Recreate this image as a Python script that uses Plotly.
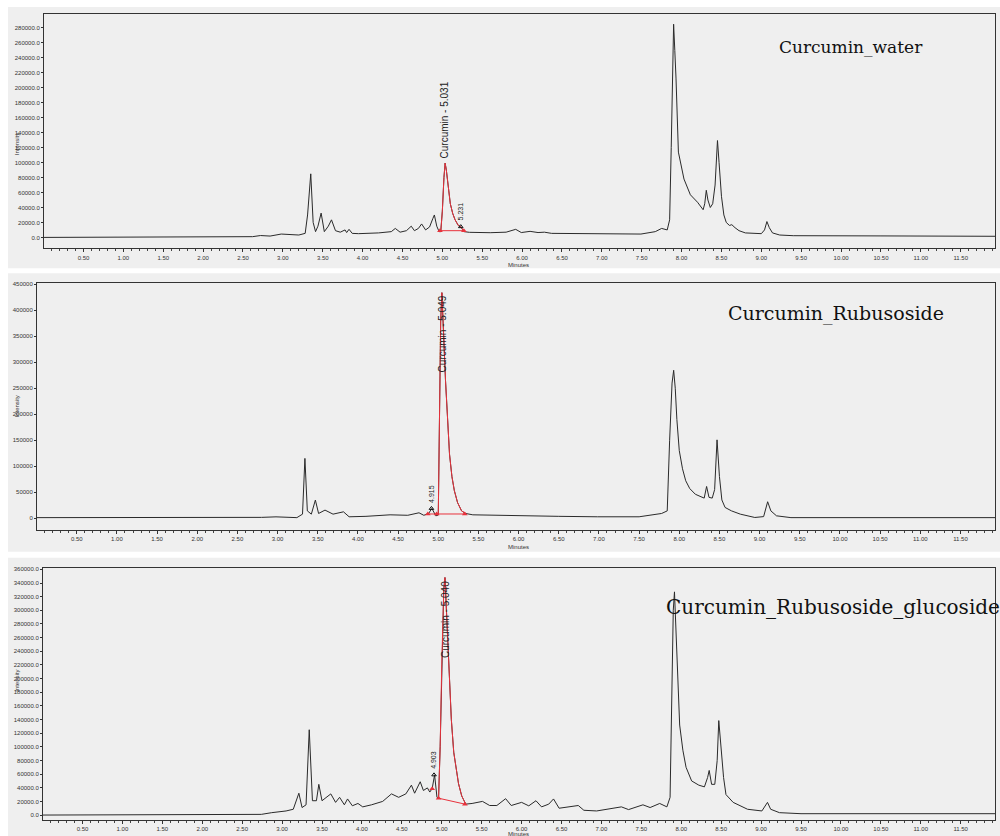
import plotly.graph_objects as go

# ---------------- data ----------------
t_water = [0.00, 2.50, 2.62, 2.72, 2.84, 2.98, 3.10, 3.20, 3.28, 3.31,
           3.35, 3.38, 3.41, 3.44, 3.48, 3.52, 3.57, 3.61, 3.66, 3.72,
           3.78, 3.80, 3.83, 3.87, 3.95, 4.05, 4.20, 4.36, 4.41, 4.47,
           4.55, 4.61, 4.65, 4.70, 4.74, 4.79, 4.84, 4.88, 4.90, 4.93,
           4.96, 4.98, 5.00, 5.02, 5.035, 5.05, 5.07, 5.10, 5.13, 5.16,
           5.20, 5.23, 5.25, 5.27, 5.34, 5.60, 5.80, 5.92, 5.99, 6.10,
           6.20, 6.28, 6.37, 6.50, 6.95, 7.49, 7.67, 7.75, 7.82, 7.85,
           7.87, 7.885, 7.90, 7.915, 7.93, 7.96, 8.03, 8.11, 8.20, 8.27,
           8.29, 8.31, 8.33, 8.36, 8.39, 8.42, 8.45, 8.47, 8.50, 8.53,
           8.56, 8.60, 8.63, 8.67, 8.72, 8.80, 8.90, 9.00, 9.04, 9.07,
           9.10, 9.14, 9.23, 9.40, 10.50, 11.93]
y_water = [0, 0, 1000, 2500, 1800, 4500, 3800, 3200, 5400, 30000,
           85000, 20000, 7700, 15000, 32500, 7700, 15000, 23500, 9000, 7000,
           10000, 6500, 10800, 5400, 5000, 5400, 6000, 7700, 12000, 7000,
           9000, 15000, 9000, 12000, 18000, 10000, 14000, 25000, 30000, 15000,
           7700, 7700, 35000, 80000, 99300, 90000, 68000, 45000, 32000, 23500,
           16000, 14400, 11000, 7700, 6800, 6300, 7000, 10800, 6500, 8100,
           6500, 7000, 5400, 5400, 4500, 4500, 7700, 12000, 10000, 23500,
           120000, 240000, 285000, 250000, 213000, 114000, 78000, 57000, 47000, 37000,
           45000, 63000, 50000, 40000, 45000, 70000, 129500, 100000, 55000, 30000,
           20000, 16000, 17000, 13000, 9000, 6000, 5000, 5000, 10000, 21200,
           13000, 6000, 3200, 2300, 2000, 1500]

t_rub = [0.00, 2.50, 2.80, 2.98, 3.24, 3.31, 3.34, 3.37, 3.42, 3.47,
         3.51, 3.59, 3.69, 3.82, 3.89, 4.10, 4.40, 4.62, 4.76, 4.82,
         4.88, 4.92, 4.97, 5.00, 5.015, 5.03, 5.045, 5.06, 5.09, 5.14,
         5.17, 5.20, 5.24, 5.29, 5.34, 5.43, 5.96, 6.50, 6.98, 7.50,
         7.78, 7.85, 7.88, 7.91, 7.93, 7.95, 7.97, 8.00, 8.04, 8.08,
         8.13, 8.20, 8.27, 8.31, 8.34, 8.37, 8.41, 8.44, 8.47, 8.50,
         8.53, 8.57, 8.65, 8.76, 8.94, 9.05, 9.10, 9.14, 9.21, 9.39,
         11.93]
y_rub = [1000, 1000, 1500, 2500, 1000, 7700, 115000, 14000, 7700, 34800,
         9000, 15500, 7700, 12200, 2600, 3500, 6400, 5500, 10300, 5500,
         9000, 18700, 4500, 6000, 200000, 380000, 434000, 380000, 265000, 123000,
         80000, 53000, 30000, 14000, 9000, 6400, 4500, 3500, 2600, 2600,
         9000, 14000, 150000, 260000, 284600, 250000, 190000, 130000, 95000, 72000,
         57000, 46000, 41200, 38600, 61000, 40000, 38600, 55000, 150700, 80000,
         35000, 20600, 14000, 7700, 1300, 3000, 31600, 14000, 4500, 1000,
         1000]

t_glu = [0.00, 2.47, 2.74, 2.87, 3.05, 3.14, 3.18, 3.21, 3.25, 3.30,
         3.34, 3.38, 3.43, 3.46, 3.50, 3.55, 3.61, 3.67, 3.72, 3.78,
         3.82, 3.88, 3.95, 4.01, 4.12, 4.26, 4.37, 4.46, 4.55, 4.62,
         4.66, 4.73, 4.77, 4.82, 4.85, 4.88, 4.91, 4.94, 4.96, 4.98,
         5.00, 5.025, 5.04, 5.06, 5.09, 5.12, 5.15, 5.18, 5.21, 5.25,
         5.30, 5.38, 5.51, 5.60, 5.69, 5.80, 5.87, 6.00, 6.09, 6.18,
         6.25, 6.34, 6.40, 6.47, 6.58, 6.71, 6.78, 6.94, 7.25, 7.34,
         7.52, 7.61, 7.73, 7.82, 7.86, 7.88, 7.90, 7.915, 7.93, 7.95,
         7.98, 8.02, 8.06, 8.13, 8.22, 8.29, 8.33, 8.35, 8.38, 8.42,
         8.45, 8.47, 8.50, 8.53, 8.56, 8.65, 8.83, 9.01, 9.08, 9.12,
         9.23, 9.50, 11.93]
y_glu = [0, 0, 1000, 3500, 6000, 8500, 21000, 32000, 11000, 15000,
         125000, 21000, 21000, 45000, 21000, 26000, 31000, 18600, 26000, 15000,
         23600, 13600, 17000, 12000, 15000, 20000, 31000, 26000, 31000, 43800,
         32000, 48800, 36000, 39800, 33700, 38700, 58900, 26000, 24700, 100000,
         220000, 330000, 348000, 300000, 210000, 140000, 92000, 65000, 46000, 28000,
         16000, 17000, 20000, 14000, 14000, 24000, 14000, 18600, 13500, 21000,
         12000, 16000, 23600, 10000, 12000, 14000, 7000, 6000, 12000, 8000,
         15000, 11000, 17000, 12000, 26000, 150000, 300000, 327000, 280000, 200000,
         131900, 95000, 70000, 50000, 43800, 41300, 55000, 65400, 45000, 45000,
         80000, 138400, 100000, 55000, 30000, 18600, 8500, 6000, 18600, 8500,
         3500, 2000, 2000]

# integrated curcumin peak windows (start, end) and integration baselines
window_water = (4.98, 5.27)
window_rub = (5.00, 5.34)
window_glu = (4.96, 5.30)
base_t_water = [4.97, 5.27]
base_y_water = [9000, 9000]
base_t_rub = [4.87, 4.98, 5.33]
base_y_rub = [8000, 8000, 8000]
base_t_glu = [4.96, 5.29]
base_y_glu = [24700, 16000]
start_t_glu = [4.88]
start_y_glu = [38700]

# peak labels
peak_t = [5.031, 5.049, 5.040]
peak_y = [99300, 434000, 348000]
peak_text = ["Curcumin - 5.031", "Curcumin - 5.049", "Curcumin - 5.040"]
minor_t = [5.231, 4.915, 4.903]
minor_y = [14400, 18700, 58900]
minor_text = ["5.231", "4.915", "4.903"]

sample_names = ["Curcumin_water", "Curcumin_Rubusoside", "Curcumin_Rubusoside_glucoside"]

x_ticks = [0.5, 1.0, 1.5, 2.0, 2.5, 3.0, 3.5, 4.0, 4.5, 5.0, 5.5, 6.0, 6.5, 7.0, 7.5, 8.0, 8.5,
           9.0, 9.5, 10.0, 10.5, 11.0, 11.5]
x_tick_text = ["%.2f" % v for v in x_ticks]

# ---------------- figure ----------------
W, H = 1000, 836
def py(pix):
    return 1 - pix / H

panels = [
    dict(t=t_water, y=y_water, win=window_water, bt=base_t_water, by=base_y_water,
         xdom=[44 / W, 995 / W], ydom=[py(247), py(12)], yr=[-14700, 298700], dtick=20000, fmt=".1f",
         bg=(5, 267), name_xy=(851, 45), name_size=17, min_shift=-12),
    dict(t=t_rub, y=y_rub, win=window_rub, bt=base_t_rub, by=base_y_rub,
         xdom=[37 / W, 995 / W], ydom=[py(529), py(282)], yr=[-22300, 452000], dtick=50000, fmt="d",
         bg=(272, 551), name_xy=(836, 312), name_size=19, min_shift=-12),
    dict(t=t_glu, y=y_glu, win=window_glu, bt=base_t_glu, by=base_y_glu,
         xdom=[43 / W, 995 / W], ydom=[py(820), py(567)], yr=[-7300, 362500], dtick=20000, fmt=".1f",
         bg=(557, 836), name_xy=(833, 606), name_size=20, min_shift=-9),
]

fig = go.Figure()
RED = "#e8323c"
LINE = "#2a2a2a"
tickfont = dict(family="Liberation Sans, Arial", size=6, color="#333333")
shapes = []
annotations = []

for i, p in enumerate(panels):
    k = "" if i == 0 else str(i + 1)
    xa, ya = "x" + k, "y" + k
    fig.add_trace(go.Scatter(x=p["t"], y=p["y"], mode="lines", xaxis=xa, yaxis=ya,
                             line=dict(color=LINE, width=1), hoverinfo="skip", showlegend=False))
    lo, hi = p["win"]
    rt = [t for t in p["t"] if lo <= t <= hi]
    ry = [v for t, v in zip(p["t"], p["y"]) if lo <= t <= hi]
    fig.add_trace(go.Scatter(x=rt, y=ry, mode="lines", xaxis=xa, yaxis=ya,
                             line=dict(color=RED, width=1), hoverinfo="skip", showlegend=False))
    fig.add_trace(go.Scatter(x=p["bt"], y=p["by"], mode="lines+markers", xaxis=xa, yaxis=ya,
                             line=dict(color=RED, width=1),
                             marker=dict(symbol="triangle-up", size=5, color=RED),
                             hoverinfo="skip", showlegend=False))
    if i == 2:
        fig.add_trace(go.Scatter(x=start_t_glu, y=start_y_glu, mode="markers", xaxis=xa, yaxis=ya,
                                 marker=dict(symbol="triangle-up", size=5, color=RED),
                                 hoverinfo="skip", showlegend=False))
    fig.add_trace(go.Scatter(x=[minor_t[i]], y=[minor_y[i]], mode="markers", xaxis=xa, yaxis=ya,
                             marker=dict(symbol="triangle-up-open", size=4, color="#111111"),
                             hoverinfo="skip", showlegend=False))

    axx = dict(domain=p["xdom"], range=[0.005, 11.93], anchor=ya, tickvals=x_ticks, ticktext=x_tick_text,
               ticks="outside", ticklen=3, tickcolor="#333", tickfont=tickfont, showline=True,
               linecolor="#333", linewidth=1, mirror=True, showgrid=False, zeroline=False,
               minor=dict(ticks="outside", dtick=0.1, tick0=0, ticklen=2, tickcolor="#444"))
    axy = dict(domain=p["ydom"], range=p["yr"], anchor=xa, dtick=p["dtick"], tick0=0, tickformat=p["fmt"],
               ticks="outside", ticklen=2, tickcolor="#333", tickfont=tickfont, showline=True,
               linecolor="#333", linewidth=1, mirror=True, showgrid=False, zeroline=False)
    fig.update_layout(**{"xaxis" + k: axx, "yaxis" + k: axy})

    shapes.append(dict(type="rect", xref="paper", yref="paper", x0=8 / W, x1=1, y0=py(p["bg"][1]),
                       y1=py(p["bg"][0]), fillcolor="#efefef", line=dict(width=0), layer="below"))

    # peak labels
    annotations.append(dict(x=peak_t[i], y=peak_y[i], xref=xa, yref=ya, text=peak_text[i], textangle=-90,
                            showarrow=False, font=dict(family="Liberation Sans, Arial", size=10, color="#222"),
                            xanchor="center", yanchor="bottom" if i == 0 else "top",
                            yshift=3 if i == 0 else -1))
    annotations.append(dict(x=minor_t[i], y=minor_y[i], xref=xa, yref=ya, text=minor_text[i], textangle=-90,
                            showarrow=False, font=dict(family="Liberation Sans, Arial", size=7, color="#222"),
                            xanchor="center", yanchor="bottom", yshift=4))
    # sample name
    annotations.append(dict(x=p["name_xy"][0] / W, y=py(p["name_xy"][1]), xref="paper", yref="paper",
                            text=sample_names[i], showarrow=False, xanchor="center", yanchor="middle",
                            font=dict(family="DejaVu Serif", size=p["name_size"], color="#111")))
    # axis titles
    yc = (p["ydom"][0] + p["ydom"][1]) / 2
    annotations.append(dict(x=12 / W, y=yc, xref="paper", yref="paper", text="Intensity", textangle=-90,
                            showarrow=False, font=dict(family="Liberation Sans, Arial", size=6, color="#333")))
    annotations.append(dict(x=518 / W, y=p["ydom"][0], xref="paper", yref="paper", text="Minutes",
                            showarrow=False, yanchor="top", yshift=p["min_shift"],
                            font=dict(family="Liberation Sans, Arial", size=6, color="#333")))

fig.update_layout(width=W, height=H, margin=dict(l=0, r=0, t=0, b=0), paper_bgcolor="#ffffff",
                  plot_bgcolor="#f1f1f1", shapes=shapes, annotations=annotations, showlegend=False)

fig.write_html("out.html", config={"displayModeBar": False},
               post_script="document.body.style.margin='0px';document.body.style.overflow='hidden';")
